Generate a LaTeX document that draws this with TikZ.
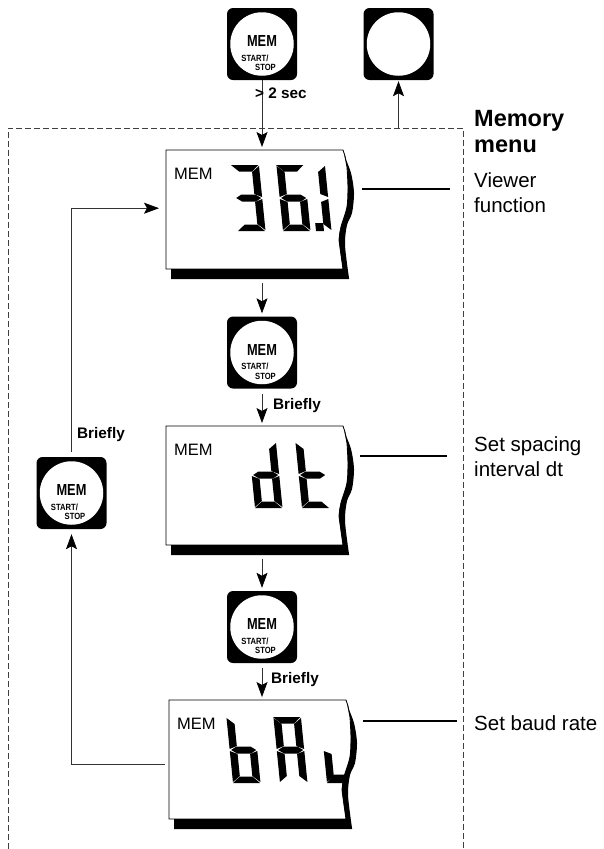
\documentclass[tikz,border=0pt]{standalone}
\usepackage{fontspec}
\setmainfont{Liberation Sans}
\usetikzlibrary{arrows.meta}

\newcommand{\lcdsega}{(-0.5,66) -- (27,66) -- (20,59.5) -- (7,59.5)}
\newcommand{\lcdsegb}{(27.5,65) -- (20,59) -- (20,37) -- (27.5,34)}
\newcommand{\lcdsegc}{(27.5,32) -- (20,29) -- (20,7) -- (27.5,1)}
\newcommand{\lcdsegd}{(0,0) -- (27,0) -- (20,6.5) -- (7.5,6.5)}
\newcommand{\lcdsege}{(0,32) -- (7.5,29) -- (7.5,7) -- (0,1)}
\newcommand{\lcdsegf}{(0,65) -- (7.5,59) -- (7.5,37) -- (0,34)}
\newcommand{\lcdsegg}{(1.5,33) -- (7,36.5) -- (21,36.5) -- (26.5,33) -- (21,29.5) -- (7,29.5)}
\newcommand{\lcdsegl}{(0,0) -- (18,0) -- (18,8.5) -- (8,8.5)}
\newcommand{\lcdsegp}{(33,0) -- (41,0) -- (41,8) -- (33,8)}

\newcommand{\lcdchar}[3]{
    \begin{scope}[shift={(#1,#2)},yscale=-1,xslant=0.1]
        \foreach \s in {#3}{
            \fill \csname lcdseg\s\endcsname -- cycle;
        }
    \end{scope}
}

\newcommand{\lcdbox}[2]{
    \node[lcdbody,anchor=north west] (#1) at (#2) {};
    \begin{scope}[shift={(#1.north west)}]
        \draw[line width=0.9pt,fill=white] (0,0) -- (177,0) -- (179,6)
            -- plot[smooth] coordinates {(181,17) (182,37) (181,57) (175,77) (173,90)}
            -- (177,119) -- (0,119) -- cycle;
        \fill (5,119) -- (5,129) -- (183,129)
            -- plot[smooth] coordinates {(183,128) (179,95) (181,75) (186,63) (188,43) (185,23) (178,5)}
            -- plot[smooth] coordinates {(178,5) (181,17) (182,37) (181,57) (175,77) (173,90) (177,119)}
            -- cycle;
        \node[lcdword] (#1word) at (8,23.5) {MEM};
    \end{scope}
}

\newcommand{\memkey}[2]{
    \node[membtn] (#1) at (#2) {};
    \node[memface] (#1face) at (#1) {};
    \node[memword] (#1mem) at ([yshift=3pt]#1) {\scalebox{0.8}[1]{MEM}};
    \node[memsmall] (#1start) at ([xshift=-7pt,yshift=-14pt]#1) {\scalebox{0.85}[1]{START/}};
    \node[memsmall] (#1stop) at ([xshift=3.5pt,yshift=-23.5pt]#1) {\scalebox{0.85}[1]{STOP}};
}

\tikzset{
    lcdbody/.style={minimum width=188pt,minimum height=129pt,inner sep=0pt},
    lcdword/.style={anchor=west,inner sep=0pt,font=\fontsize{16.5}{18}\selectfont},
    membtn/.style={rectangle,rounded corners=6pt,fill=black,minimum width=70pt,minimum height=72pt,inner sep=0pt},
    memface/.style={circle,fill=white,minimum size=63.5pt,inner sep=0pt},
    memword/.style={inner sep=0pt,font=\fontsize{16}{18}\selectfont\bfseries},
    memsmall/.style={inner sep=0pt,font=\fontsize{9}{10}\selectfont\bfseries},
    flow/.style={->,line width=0.7pt,black!80},
    tick/.style={line width=1.5pt},
    note/.style={anchor=base west,inner sep=0pt,font=\fontsize{15.3}{18}\selectfont\bfseries},
    side/.style={anchor=north west,align=left,inner sep=0pt,font=\fontsize{20.5}{25}\selectfont},
}

\begin{document}
\begin{tikzpicture}[x=1pt,y=-1pt,>={Stealth[length=15pt,width=11pt,inset=3pt,color=black]}]
    \useasboundingbox (0,0) rectangle (603,849);

    \coordinate (framesw) at (8,849);
    \coordinate (framenw) at (8,128);
    \coordinate (framene) at (463.5,128);
    \coordinate (framese) at (463.5,849);
    \draw[black!75,line width=0.6pt,dash pattern=on 6pt off 3pt]
        (framesw) -- (framenw) -- (framene) -- (framese);

    \lcdbox{lcdview}{166,150}
    \lcdbox{lcddt}{166,426}
    \lcdbox{lcdbaud}{169,700}

    \lcdchar{238}{231}{a,b,c,d,g}
    \lcdchar{283}{231}{a,c,d,e,f,g,p}
    \lcdchar{304}{231}{b,c}
    \lcdchar{255}{508}{b,c,d,e,g}
    \lcdchar{302}{508}{d,e,f,g}
    \lcdchar{233}{783}{c,d,e,f,g}
    \lcdchar{280}{783}{a,b,c,e,f,g}
    \lcdchar{327}{783}{e,l}

    \memkey{keystart}{262,44}
    \node[membtn] (keyoff) at (398.5,44) {};
    \node[memface] (keyoffface) at (keyoff) {};
    \memkey{keydt}{262,352.5}
    \memkey{keybaud}{262,627}
    \memkey{keyback}{71.5,493}

    \draw[flow,shorten >=3pt] (keystart.south) -- (keystart.south |- lcdview.north);
    \draw[flow,shorten >=1pt] (keyoff.south |- framenw) -- (keyoff.south);
    \draw[flow,shorten <=4pt,shorten >=3pt] (keydt.north |- lcdview.south) -- (keydt.north);
    \draw[flow,shorten <=5pt,shorten >=3pt] (keydt.south) -- (keydt.south |- lcddt.north);
    \draw[flow,shorten <=4pt,shorten >=3pt] (keybaud.north |- lcddt.south) -- (keybaud.north);
    \draw[flow,shorten <=5pt,shorten >=3pt] (keybaud.south) -- (keybaud.south |- lcdbaud.north);
    \draw[flow,shorten <=4pt,shorten >=5pt] (lcdbaud.west) -| (keyback.south);
    \coordinate (viewin) at ([yshift=6.5pt]lcdview.west);
    \draw[flow,shorten <=5pt,shorten >=7pt] (keyback.north) |- (viewin);

    \node[note] (notestart) at (255,98) {> 2 sec};
    \node[note] (notedt) at (273,409) {Briefly};
    \node[note] (notebaud) at (271,683) {Briefly};
    \node[note] (noteback) at (77,438) {Briefly};

    \node[side,font=\fontsize{23.5}{26}\selectfont\bfseries] (sidemenu) at (474,110.5) {Memory\\menu};
    \node[side] (sideview) at (474,172) {Viewer\\function};
    \node[side] (sidedt) at (474,436.5) {Set spacing\\interval dt};
    \node[side] (sidebaud) at (474,715) {Set baud rate};

    \draw[tick] ([xshift=8pt,yshift=25.5pt]lcdview.east) -- ++(88,0);
    \draw[tick] ([xshift=6pt,yshift=34.75pt]lcddt.east) -- ++(87,0);
    \draw[tick] ([xshift=6pt,yshift=43.5pt]lcdbaud.east) -- ++(94,0);
\end{tikzpicture}
\end{document}
